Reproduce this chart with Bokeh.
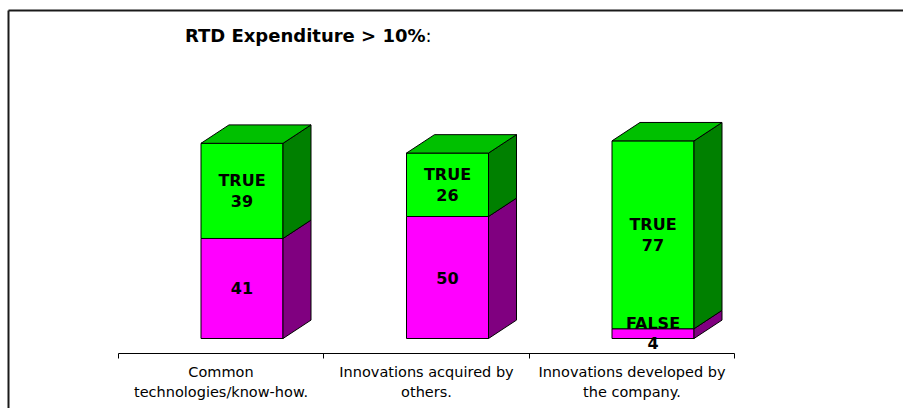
from bokeh.plotting import figure
from bokeh.models import ColumnDataSource, Range1d, LinearAxis, FixedTicker, Label
from bokeh.core.properties import value
from bokeh.embed import file_html
from bokeh.resources import INLINE

# ---- data ----
categories = ["Common\ntechnologies/know-how.",
              "Innovations acquired by\nothers.",
              "Innovations developed by\nthe company."]
false_values = [41, 50, 4]
true_values = [39, 26, 77]
false_show_name = [False, False, True]
true_show_name = [True, True, True]
series_names = ["FALSE", "TRUE"]
title_bold = "RTD Expenditure > 10%"
title_tail = ":"

# ---- layout ----
W, H = 903, 408
PX_X = 205.5          # pixels per category
PX_Y = 2.44           # pixels per value unit
x0 = -220.5 / PX_X
x1 = x0 + W / PX_X
y1 = 338 / PX_Y
y0 = y1 - H / PX_Y

FL, FR = -20 / PX_X, 62 / PX_X     # front face extent around category
DX, DY = 28 / PX_X, 18.4 / PX_Y    # 3D depth

colors = {
    "FALSE": ("#FF00FF", "#800080", "#C000C0"),
    "TRUE": ("#00FF00", "#008000", "#00C000"),
}

p = figure(width=W, height=H, x_range=Range1d(x0, x1), y_range=Range1d(y0, y1),
           output_backend="svg", toolbar_location=None,
           x_axis_type=None, y_axis_type=None,
           min_border_left=0, min_border_right=0, min_border_top=0,
           min_border_bottom=0)
p.outline_line_color = None
p.grid.visible = False
p.background_fill_color = "white"
p.border_fill_color = "white"

front = dict(xs=[], ys=[], c=[])
side = dict(xs=[], ys=[], c=[])
top = dict(xs=[], ys=[], c=[])
lab = dict(x=[], y=[], text=[])

for i in range(len(categories)):
    xl, xr = i + FL, i + FR
    base = 0
    segs = [("FALSE", false_values[i], false_show_name[i]),
            ("TRUE", true_values[i], true_show_name[i])]
    for k, (name, v, show) in enumerate(segs):
        b, t = base, base + v
        cf, cs, ct = colors[name]
        front["xs"].append([xl, xr, xr, xl]); front["ys"].append([b, b, t, t]); front["c"].append(cf)
        side["xs"].append([xr, xr + DX, xr + DX, xr]); side["ys"].append([b, b + DY, t + DY, t]); side["c"].append(cs)
        if k == len(segs) - 1:
            top["xs"].append([xl, xr, xr + DX, xl + DX]); top["ys"].append([t, t, t + DY, t + DY]); top["c"].append(ct)
        lab["x"].append((xl + xr) / 2)
        lab["y"].append((b + t) / 2)
        lab["text"].append(f"{name}\n{v}" if show else f"{v}")
        base = t

for d in (front, side, top):
    p.patches("xs", "ys", source=ColumnDataSource(d), fill_color="c",
              line_color="black", line_width=1)

p.text(x="x", y="y", text="text", source=ColumnDataSource(lab),
       text_font=value("DejaVu Sans"), text_font_style="bold",
       text_font_size="16px", text_align="center", text_baseline="middle",
       text_line_height=1.08, text_color="black")

# title
tx = (425 - 220.5) / PX_X
ty = y1 - 34.5 / PX_Y
p.add_layout(Label(x=tx, y=ty, text=title_bold, text_align="right",
                   text_baseline="middle", text_font="DejaVu Sans",
                   text_font_style="bold", text_font_size="18px", text_color="black"))
p.add_layout(Label(x=tx, y=ty, text=title_tail, text_align="left",
                   text_baseline="middle", text_font="DejaVu Sans",
                   text_font_size="18px", text_color="black"))

# chart border (top and left visible)
bx = x0 + 8 / PX_X
by = y1 - 10 / PX_Y
p.segment(x0=[bx, bx], y0=[by, by], x1=[bx, x1], y1=[y0, by],
          line_color="#1a1a1a", line_width=2)

# category axis
ax = LinearAxis(ticker=FixedTicker(ticks=list(range(len(categories))),
                                   minor_ticks=[i - 0.5 for i in range(len(categories) + 1)]),
                bounds=(-0.5, len(categories) - 0.5),
                fixed_location=-(352.5 - 338) / PX_Y)
ax.major_label_overrides = {i: c for i, c in enumerate(categories)}
ax.major_tick_out = 0
ax.major_tick_in = 0
ax.minor_tick_out = 5
ax.minor_tick_in = 0
ax.minor_tick_line_color = "black"
ax.axis_line_color = "black"
ax.major_label_text_font = "DejaVu Sans"
ax.major_label_text_font_size = "14.5px"
ax.major_label_text_color = "black"
ax.major_label_text_line_height = 1.25
ax.major_label_standoff = 6
p.add_layout(ax, "below")

open("out.html", "w").write(file_html(p, INLINE))
